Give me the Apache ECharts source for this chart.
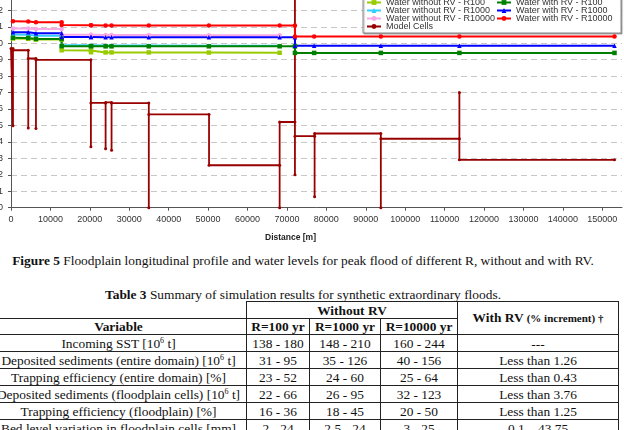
<!DOCTYPE html>
<html>
<head>
<meta charset="utf-8">
<script src="https://cdn.jsdelivr.net/npm/echarts@6/dist/echarts.min.js"></script>
<style>
  html, body { margin: 0; padding: 0; background: #fff; overflow: hidden; }
  body { width: 624px; height: 430px; position: relative; font-family: "Liberation Serif", "DejaVu Serif", serif; color: #111; }
  #chart { position: absolute; left: 0; top: -30px; width: 624px; height: 280px; }
  .caption { position: absolute; left: 0; width: 606px; text-align: center; font-size: 13.4px; line-height: 16px; white-space: nowrap; }
  table { position: absolute; left: -10px; top: 301px; width: 629px; border-collapse: collapse; table-layout: fixed; font-size: 13.4px; }
  td, th { border: 1px solid #222; padding: 0; text-align: center; line-height: 15px; white-space: nowrap; overflow: visible; }
  th { font-weight: bold; }
  sup { font-size: 8px; vertical-align: 5px; line-height: 0; }
  .small { font-size: 11px; }
</style>
</head>
<body>
<div id="chart"></div>
<div class="caption" style="top:253px"><b>Figure 5</b> Floodplain longitudinal profile and water levels for peak flood of different R, without and with RV.</div>
<div class="caption" style="top:287px"><b>Table 3</b> Summary of simulation results for synthetic extraordinary floods.</div>
<table>
  <colgroup>
    <col style="width:256px"><col style="width:63px"><col style="width:71px"><col style="width:77px"><col style="width:161px">
  </colgroup>
  <tr style="height:17px">
    <th style="border-top:none;border-left:none"></th>
    <th colspan="3">Without RV</th>
    <th rowspan="2">With RV <span class="small">(% increment) †</span></th>
  </tr>
  <tr style="height:16px">
    <th>Variable</th><th>R=100 yr</th><th>R=1000 yr</th><th>R=10000 yr</th>
  </tr>
  <tr style="height:17px"><td>Incoming SST [10<sup>6</sup> t]</td><td>138 - 180</td><td>148 - 210</td><td>160 - 244</td><td>---</td></tr>
  <tr style="height:17px"><td>Deposited sediments (entire domain) [10<sup>6</sup> t]</td><td>31 - 95</td><td>35 - 126</td><td>40 - 156</td><td>Less than 1.26</td></tr>
  <tr style="height:17px"><td>Trapping efficiency (entire domain) [%]</td><td>23 - 52</td><td>24 - 60</td><td>25 - 64</td><td>Less than 0.43</td></tr>
  <tr style="height:17px"><td>Deposited sediments (floodplain cells) [10<sup>6</sup> t]</td><td>22 - 66</td><td>26 - 95</td><td>32 - 123</td><td>Less than 3.76</td></tr>
  <tr style="height:17px"><td>Trapping efficiency (floodplain) [%]</td><td>16 - 36</td><td>18 - 45</td><td>20 - 50</td><td>Less than 1.25</td></tr>
  <tr style="height:17px"><td>Bed level variation in floodplain cells [mm]</td><td>2 - 24</td><td>2.5 - 24</td><td>3 - 25</td><td>0.1 – 43.75</td></tr>
</table>

<script>
// distances [m] of the water level points (repeated where the level drops)
const waterDistance = [500, 4380, 6330, 12850, 12850, 20300, 20300, 24000, 25500, 34960, 50200, 68150, 72030, 72030, 76900, 93820, 113750, 153100]

// water levels without RV (upstream reach only)
const noRvR100 = [10.28, 10.27, 10.22, 10.22, 9.57, 9.55, 9.45, 9.44, 9.44, 9.44, 9.43, 9.42]
const noRvR1000 = [10.53, 10.52, 10.46, 10.46, 9.88, 9.87, 9.87, 9.86, 9.86, 9.86, 9.85, 9.84]
const noRvR10000 = [10.90, 10.89, 10.86, 10.86, 10.52, 10.51, 10.51, 10.50, 10.50, 10.50, 10.49, 10.49]

// water levels with RV
const rvR100 = [10.33, 10.32, 10.26, 10.26, 9.82, 9.82, 9.82, 9.81, 9.81, 9.81, 9.81, 9.81, 9.81, 9.41, 9.41, 9.41, 9.41, 9.41]
const rvR1000 = [10.67, 10.66, 10.60, 10.60, 10.37, 10.37, 10.37, 10.36, 10.36, 10.36, 10.36, 10.36, 10.36, 9.84, 9.84, 9.84, 9.84, 9.84]
const rvR10000 = [11.34, 11.32, 11.28, 11.28, 11.10, 11.09, 11.09, 11.08, 11.08, 11.08, 11.08, 11.08, 11.08, 10.41, 10.41, 10.41, 10.41, 10.41]

// model cells profile
const cellDistance = [0, 500, 500, 500, 4380, 4380, 4380, 6330, 6330, 6330, 20270, 20270, 20270, 24000, 24000, 24000, 25510, 25510, 25510, 34960, 34960, 34960, 50240, 50240, 68150, 68150, 68150, 72030, 72030, 72030, 72030, 77020, 77020, 77020, 93820, 93820, 93820, 113750, 113750, 113750, 153100]
const cellLevel = [9.68, 9.68, 4.98, 9.57, 9.57, 4.84, 9.07, 9.07, 4.82, 8.99, 8.99, 3.70, 6.37, 6.37, 3.58, 6.40, 6.40, 3.50, 6.36, 6.36, 0, 5.67, 5.67, 2.58, 2.58, 0, 5.21, 5.21, 13, 2.01, 4.35, 4.35, 0.67, 4.51, 4.51, 0, 4.19, 4.19, 7.01, 2.91, 2.91]

const pairs = (xs, ys) => ys.map((y, i) => [xs[i], y])

const chart = echarts.init(document.getElementById('chart'))

// 水位线的通用样式
function water (name, values, color, symbol) {
  return {
    name,
    type: 'line',
    data: pairs(waterDistance, values),
    symbol,
    symbolSize: 4.5,
    showSymbol: true,
    lineStyle: { color, width: 2 },
    itemStyle: { color },
    z: 3
  }
}

const legendText = { fontFamily: 'Liberation Sans', fontSize: 9, color: '#333', lineHeight: 8 }

const option = {
  animation: false,
  grid: { left: 11, right: 2, top: 23.85, bottom: 42.3, outerBoundsMode: 'none', containLabel: false },
  xAxis: {
    type: 'value',
    min: 0,
    max: 155000,
    interval: 10000,
    axisLine: { lineStyle: { color: '#555' } },
    axisTick: { length: 3, lineStyle: { color: '#555' } },
    axisLabel: { fontFamily: 'Liberation Sans', fontSize: 9, color: '#333', margin: 7, showMaxLabel: false, formatter: v => String(v) },
    splitLine: { show: false }
  },
  yAxis: {
    type: 'value',
    min: 0,
    max: 13,
    interval: 1,
    axisLine: { show: true, lineStyle: { color: '#555' } },
    axisTick: { show: true, length: 3, lineStyle: { color: '#555' } },
    axisLabel: { fontFamily: 'Liberation Sans', fontSize: 9, color: '#333', margin: 8, formatter: v => String(v) },
    splitLine: { lineStyle: { color: '#c8c8c8', type: [6, 4] } }
  },
  legend: [
    {
      orient: 'vertical',
      left: 366,
      top: 28,
      padding: 0,
      itemWidth: 14,
      itemHeight: 6,
      itemGap: -1,
      textStyle: legendText,
      data: ['Water without RV - R100', 'Water without RV - R1000', 'Water without RV - R10000', 'Model Cells']
    },
    {
      orient: 'vertical',
      left: 496,
      top: 28,
      padding: 0,
      itemWidth: 14,
      itemHeight: 6,
      itemGap: -1,
      textStyle: legendText,
      data: ['Water with RV - R100', 'Water with RV - R1000', 'Water with RV - R10000']
    }
  ],
  graphic: [
    {
      type: 'rect',
      z: 3,
      shape: { x: 363, y: 0, width: 258, height: 63 },
      style: { fill: '#fff', stroke: '#888', lineWidth: 1, shadowColor: 'rgba(0,0,0,0.3)', shadowOffsetX: 1, shadowOffsetY: 1, shadowBlur: 1 }
    },
    {
      type: 'text',
      left: 265,
      top: 263,
      style: { text: 'Distance [m]', fontFamily: 'Liberation Sans', fontWeight: 'bold', fontSize: 8.5, fill: '#222' }
    }
  ],
  series: [
    {
      name: 'Model Cells',
      type: 'line',
      data: pairs(cellDistance, cellLevel),
      symbol: 'circle',
      symbolSize: 3,
      lineStyle: { color: '#990000', width: 1.8 },
      itemStyle: { color: '#990000' },
      z: 2
    },
    water('Water without RV - R100', noRvR100, '#99cc00', 'rect'),
    water('Water without RV - R1000', noRvR1000, '#33ccff', 'triangle'),
    water('Water without RV - R10000', noRvR10000, '#f9a8e6', 'circle'),
    water('Water with RV - R100', rvR100, '#008000', 'rect'),
    water('Water with RV - R1000', rvR1000, '#0000ff', 'triangle'),
    water('Water with RV - R10000', rvR10000, '#ff0000', 'circle')
  ]
}
chart.setOption(option)
</script>
</body>
</html>
